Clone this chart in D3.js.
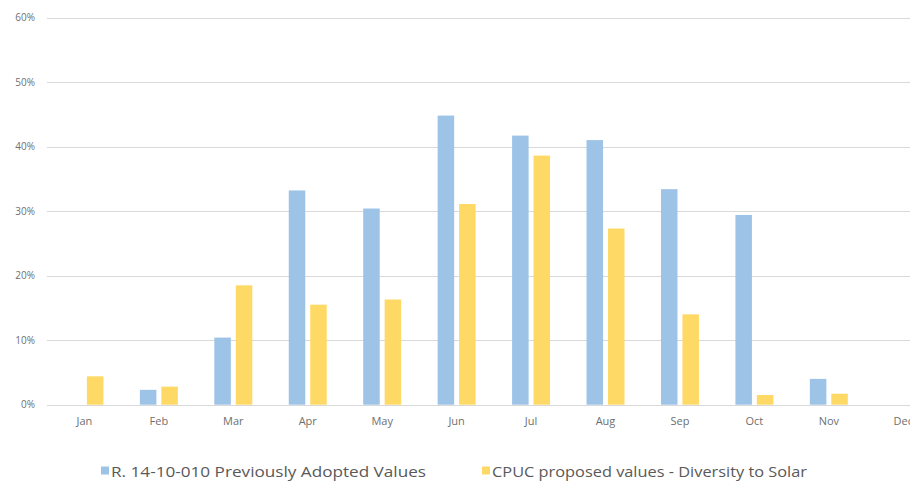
<!DOCTYPE html>
<html>
<head>
<meta charset="utf-8">
<script src="https://cdn.jsdelivr.net/npm/d3@7"></script>
<style>
  html, body { margin: 0; padding: 0; background: #fff; overflow: hidden; }
  svg { display: block; font-family: "Open Sans", "Noto Sans", sans-serif; }
</style>
</head>
<body>
<svg id="chart" width="910" height="483"></svg>
<script>
// Monthly values for the two series (fraction of capacity)
const months = ["Jan", "Feb", "Mar", "Apr", "May", "Jun", "Jul", "Aug", "Sep", "Oct", "Nov", "Dec"];
const seriesNames = ["R. 14-10-010 Previously Adopted Values", "CPUC proposed values - Diversity to Solar"];
const adoptedValues = [0, 0.023, 0.104, 0.332, 0.304, 0.448, 0.417, 0.410, 0.334, 0.294, 0.040, 0];
const proposedValues = [0.044, 0.028, 0.185, 0.155, 0.163, 0.311, 0.386, 0.273, 0.140, 0.015, 0.017, 0];
const yTicks = [0, 0.1, 0.2, 0.3, 0.4, 0.5, 0.6];
const colors = ["#9dc3e6", "#ffd966"];
const textColor = "#6f6f6f";

const svg = d3.select("#chart");

const x0 = d3.scaleBand().domain(months).range([47.2, 940.5]).paddingInner(0).paddingOuter(0);
const x1 = d3.scaleBand().domain(seriesNames).range([0, x0.bandwidth()])
  .paddingInner(0.23).paddingOuter(0.85);
const y = d3.scaleLinear().domain([0, 0.6]).range([404.7, 17.5]);

// Horizontal gridlines
svg.append("g").selectAll("line").data(yTicks).join("line")
  .attr("x1", 47).attr("x2", 910)
  .attr("y1", d => Math.round(y(d)) + 0.5).attr("y2", d => Math.round(y(d)) + 0.5)
  .attr("stroke", "#d9d9d9").attr("stroke-width", 1);

// Y axis labels
const yAxis = d3.axisLeft(y).tickValues(yTicks).tickFormat(d3.format(".0%")).tickSize(0).tickPadding(0);
svg.append("g").attr("transform", "translate(35,0)").call(yAxis)
  .call(g => g.select(".domain").remove())
  .call(g => g.selectAll("text").attr("fill", textColor).style("fill", textColor)
    .attr("font-size", 10).attr("font-family", "'Open Sans', sans-serif"));

// X axis labels
const xAxis = d3.axisBottom(x0).tickSize(0).tickPadding(0);
svg.append("g").attr("transform", "translate(0,417)").call(xAxis)
  .call(g => g.select(".domain").remove())
  .call(g => g.selectAll("text").attr("fill", textColor).style("fill", textColor)
    .attr("font-size", 11).attr("font-family", "'Open Sans', sans-serif"));

// Bars
const rows = months.map((m, i) => ({ month: m, values: [adoptedValues[i], proposedValues[i]] }));
svg.append("g").selectAll("g").data(rows).join("g")
  .attr("transform", d => `translate(${x0(d.month)},0)`)
  .selectAll("rect")
  .data(d => d.values.map((v, k) => ({ key: seriesNames[k], value: v, k })))
  .join("rect")
  .attr("x", d => x1(d.key))
  .attr("width", x1.bandwidth())
  .attr("y", d => y(d.value))
  .attr("height", d => y(0) - y(d.value))
  .attr("fill", d => colors[d.k]);

// Legend
const legendX = [101, 482];
const legend = svg.append("g").selectAll("g").data(seriesNames).join("g")
  .attr("transform", (d, i) => `translate(${legendX[i]},466.5)`);
legend.append("rect").attr("width", 8).attr("height", 8).attr("fill", (d, i) => colors[i]);
legend.append("text").attr("x", 10).attr("y", 10.5)
  .attr("font-size", 14).attr("fill", "#595959")
  .attr("textLength", 315).attr("lengthAdjust", "spacingAndGlyphs")
  .text(d => d);
</script>
</body>
</html>
